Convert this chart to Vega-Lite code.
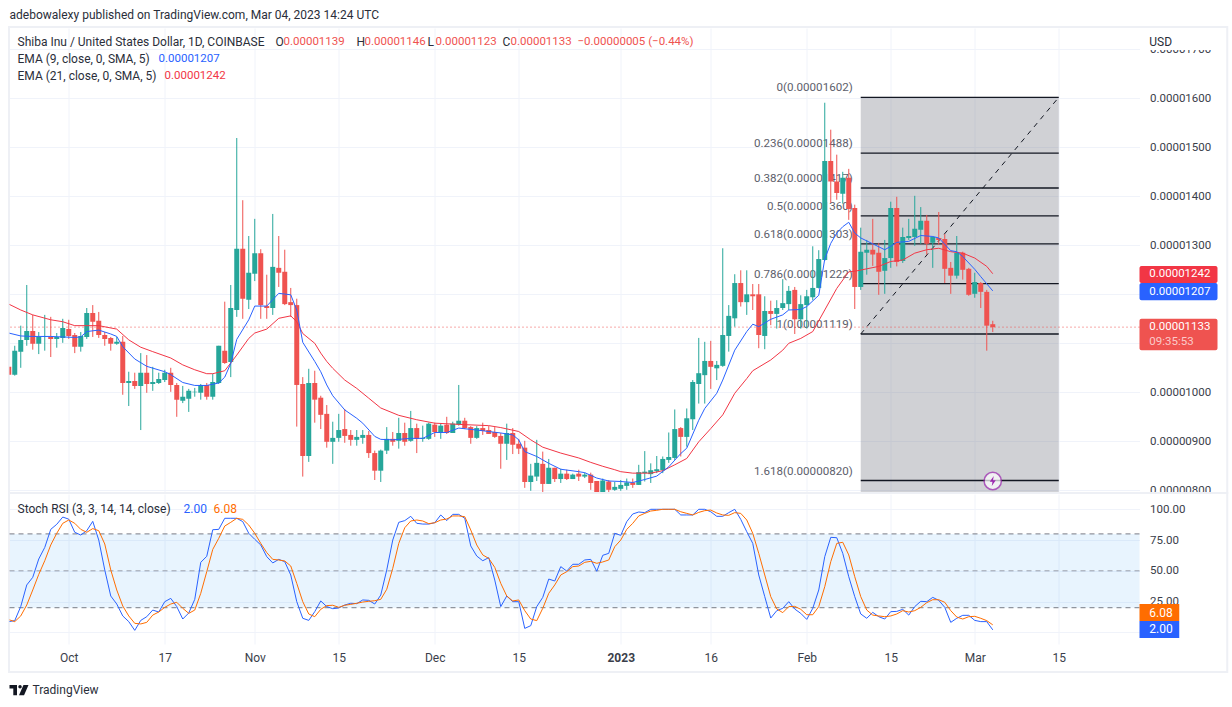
{
"$schema":"https://vega.github.io/schema/vega-lite/v6.json",
"background":"white",
"padding":{"left":7.5,"top":9,"right":0,"bottom":0},
"autosize":{"type":"pad"},
"bounds":"flush",
"spacing":1,
"config":{"view":{"stroke":null},"font":"Roboto","text":{"font":"Roboto"}},
"datasets":{
"daily":[
{"date":"2022-09-21","o":1052,"h":1052,"l":1036,"c":1036,"k":8.7,"d":10.3},
{"date":"2022-09-22","o":1036,"h":1095,"l":1034,"c":1085,"k":9.5,"d":8.7},
{"date":"2022-09-23","o":1083,"h":1136,"l":1050,"c":1107,"k":21,"d":13.3},
{"date":"2022-09-24","o":1107,"h":1219,"l":1095,"c":1125,"k":38.5,"d":22.2},
{"date":"2022-09-25","o":1125,"h":1158,"l":1087,"c":1099,"k":44.7,"d":34.4},
{"date":"2022-09-26","o":1099,"h":1123,"l":1078,"c":1113,"k":59.6,"d":47.1},
{"date":"2022-09-27","o":1113,"h":1158,"l":1085,"c":1114,"k":69,"d":58.2},
{"date":"2022-09-28","o":1113,"h":1154,"l":1072,"c":1109,"k":83.7,"d":71},
{"date":"2022-09-29","o":1109,"h":1121,"l":1091,"c":1113,"k":87.8,"d":80.5},
{"date":"2022-09-30","o":1111,"h":1150,"l":1101,"c":1131,"k":93.7,"d":88.6},
{"date":"2022-10-01","o":1129,"h":1148,"l":1109,"c":1115,"k":92,"d":91.3},
{"date":"2022-10-02","o":1117,"h":1121,"l":1080,"c":1093,"k":81.3,"d":88.6},
{"date":"2022-10-03","o":1093,"h":1123,"l":1083,"c":1115,"k":79.1,"d":83.7},
{"date":"2022-10-04","o":1113,"h":1172,"l":1109,"c":1162,"k":82.6,"d":81.3},
{"date":"2022-10-05","o":1162,"h":1178,"l":1113,"c":1144,"k":90.2,"d":84.3},
{"date":"2022-10-06","o":1146,"h":1164,"l":1111,"c":1117,"k":75,"d":82.6},
{"date":"2022-10-07","o":1117,"h":1123,"l":1095,"c":1109,"k":50.7,"d":71.8},
{"date":"2022-10-08","o":1111,"h":1113,"l":1085,"c":1099,"k":29.5,"d":50.7},
{"date":"2022-10-09","o":1099,"h":1113,"l":1097,"c":1103,"k":23,"d":34.4},
{"date":"2022-10-10","o":1103,"h":1115,"l":995,"c":1019,"k":13.3,"d":21.4},
{"date":"2022-10-11","o":1019,"h":1042,"l":972,"c":1023,"k":8.7,"d":13.3},
{"date":"2022-10-12","o":1023,"h":1040,"l":1007,"c":1013,"k":1.6,"d":7.3},
{"date":"2022-10-13","o":1013,"h":1080,"l":923,"c":1040,"k":9.7,"d":6.8},
{"date":"2022-10-14","o":1040,"h":1076,"l":999,"c":1017,"k":12.7,"d":8.1},
{"date":"2022-10-15","o":1017,"h":1052,"l":1003,"c":1021,"k":18.1,"d":14},
{"date":"2022-10-16","o":1019,"h":1040,"l":1017,"c":1027,"k":16.5,"d":16.5},
{"date":"2022-10-17","o":1025,"h":1046,"l":1021,"c":1040,"k":24.9,"d":20.3},
{"date":"2022-10-18","o":1040,"h":1050,"l":1001,"c":1015,"k":27.6,"d":23},
{"date":"2022-10-19","o":1015,"h":1019,"l":950,"c":985,"k":20.9,"d":24.4},
{"date":"2022-10-20","o":983,"h":1013,"l":978,"c":991,"k":10.8,"d":19.5},
{"date":"2022-10-21","o":987,"h":1007,"l":960,"c":1003,"k":15.7,"d":15.4},
{"date":"2022-10-22","o":1000,"h":1009,"l":991,"c":1001,"k":26.8,"d":18.1},
{"date":"2022-10-23","o":999,"h":1017,"l":985,"c":1015,"k":56.9,"d":31.7},
{"date":"2022-10-24","o":1015,"h":1019,"l":985,"c":991,"k":61.8,"d":49.3},
{"date":"2022-10-25","o":991,"h":1038,"l":985,"c":1021,"k":83.4,"d":67.4},
{"date":"2022-10-26","o":1019,"h":1095,"l":1017,"c":1095,"k":83.7,"d":76.4},
{"date":"2022-10-27","o":1085,"h":1185,"l":1058,"c":1060,"k":92.7,"d":86.4},
{"date":"2022-10-28","o":1062,"h":1219,"l":1031,"c":1172,"k":92.7,"d":89.4},
{"date":"2022-10-29","o":1168,"h":1519,"l":1154,"c":1293,"k":92.7,"d":92.7},
{"date":"2022-10-30","o":1293,"h":1392,"l":1150,"c":1191,"k":90,"d":91.8},
{"date":"2022-10-31","o":1189,"h":1319,"l":1170,"c":1244,"k":80.5,"d":87.2},
{"date":"2022-11-01","o":1242,"h":1354,"l":1227,"c":1284,"k":75.6,"d":80.5},
{"date":"2022-11-02","o":1284,"h":1292,"l":1150,"c":1178,"k":71,"d":72.3},
{"date":"2022-11-03","o":1176,"h":1240,"l":1150,"c":1172,"k":61.5,"d":64.8},
{"date":"2022-11-04","o":1172,"h":1364,"l":1158,"c":1256,"k":56.4,"d":59.3},
{"date":"2022-11-05","o":1254,"h":1319,"l":1215,"c":1244,"k":59.3,"d":58.8},
{"date":"2022-11-06","o":1246,"h":1291,"l":1178,"c":1180,"k":57.4,"d":58},
{"date":"2022-11-07","o":1184,"h":1213,"l":1154,"c":1178,"k":46.6,"d":53.9},
{"date":"2022-11-08","o":1178,"h":1191,"l":930,"c":1015,"k":24.9,"d":39.8},
{"date":"2022-11-09","o":1017,"h":1031,"l":828,"c":870,"k":11.4,"d":24.9},
{"date":"2022-11-10","o":870,"h":1048,"l":858,"c":1019,"k":9.7,"d":14.9},
{"date":"2022-11-11","o":1019,"h":1044,"l":938,"c":985,"k":16.8,"d":12.7},
{"date":"2022-11-12","o":989,"h":993,"l":925,"c":954,"k":25.5,"d":18.7},
{"date":"2022-11-13","o":956,"h":974,"l":887,"c":899,"k":20.9,"d":21.7},
{"date":"2022-11-14","o":899,"h":940,"l":854,"c":907,"k":19.2,"d":22},
{"date":"2022-11-15","o":907,"h":956,"l":899,"c":923,"k":19.8,"d":20.3},
{"date":"2022-11-16","o":925,"h":966,"l":897,"c":911,"k":22.2,"d":22},
{"date":"2022-11-17","o":913,"h":923,"l":891,"c":903,"k":23.6,"d":22.7},
{"date":"2022-11-18","o":903,"h":923,"l":891,"c":909,"k":23.3,"d":23.6},
{"date":"2022-11-19","o":907,"h":923,"l":895,"c":913,"k":26.3,"d":24.6},
{"date":"2022-11-20","o":913,"h":921,"l":866,"c":876,"k":26,"d":25.2},
{"date":"2022-11-21","o":876,"h":881,"l":821,"c":840,"k":23,"d":25.7},
{"date":"2022-11-22","o":840,"h":883,"l":817,"c":881,"k":30.3,"d":26.8},
{"date":"2022-11-23","o":881,"h":929,"l":874,"c":905,"k":50.7,"d":35},
{"date":"2022-11-24","o":905,"h":919,"l":891,"c":899,"k":75,"d":52},
{"date":"2022-11-25","o":901,"h":948,"l":885,"c":917,"k":89.4,"d":72.3},
{"date":"2022-11-26","o":917,"h":938,"l":891,"c":899,"k":90.8,"d":85},
{"date":"2022-11-27","o":901,"h":962,"l":899,"c":927,"k":94.3,"d":90.5},
{"date":"2022-11-28","o":927,"h":936,"l":876,"c":905,"k":88.6,"d":91.3},
{"date":"2022-11-29","o":905,"h":932,"l":899,"c":907,"k":88,"d":90.5},
{"date":"2022-11-30","o":905,"h":938,"l":903,"c":936,"k":88,"d":88.3},
{"date":"2022-12-01","o":934,"h":938,"l":909,"c":919,"k":89.1,"d":89.1},
{"date":"2022-12-02","o":917,"h":936,"l":905,"c":932,"k":95.4,"d":91.3},
{"date":"2022-12-03","o":934,"h":950,"l":915,"c":917,"k":90.8,"d":92.1},
{"date":"2022-12-04","o":917,"h":940,"l":917,"c":936,"k":95.9,"d":94.6},
{"date":"2022-12-05","o":934,"h":1015,"l":932,"c":942,"k":95.9,"d":94.6},
{"date":"2022-12-06","o":942,"h":948,"l":925,"c":927,"k":92.7,"d":94},
{"date":"2022-12-07","o":929,"h":931,"l":895,"c":907,"k":70.2,"d":83.2},
{"date":"2022-12-08","o":907,"h":931,"l":905,"c":927,"k":62,"d":71},
{"date":"2022-12-09","o":927,"h":938,"l":913,"c":921,"k":58.2,"d":62.9},
{"date":"2022-12-10","o":923,"h":931,"l":915,"c":915,"k":60.7,"d":60.1},
{"date":"2022-12-11","o":919,"h":929,"l":907,"c":909,"k":42.5,"d":52.8},
{"date":"2022-12-12","o":911,"h":917,"l":844,"c":895,"k":20.9,"d":39.8},
{"date":"2022-12-13","o":895,"h":936,"l":862,"c":917,"k":29.5,"d":29.5},
{"date":"2022-12-14","o":917,"h":927,"l":874,"c":893,"k":24.9,"d":25.5},
{"date":"2022-12-15","o":895,"h":905,"l":874,"c":885,"k":24.9,"d":26.3},
{"date":"2022-12-16","o":887,"h":901,"l":805,"c":817,"k":3.2,"d":17.6},
{"date":"2022-12-17","o":817,"h":854,"l":799,"c":830,"k":5.4,"d":10.8},
{"date":"2022-12-18","o":828,"h":903,"l":819,"c":856,"k":20.9,"d":9.5},
{"date":"2022-12-19","o":854,"h":879,"l":795,"c":813,"k":28.4,"d":19.5},
{"date":"2022-12-20","o":813,"h":864,"l":813,"c":846,"k":43.3,"d":31.7},
{"date":"2022-12-21","o":846,"h":846,"l":817,"c":823,"k":41.7,"d":38.5},
{"date":"2022-12-22","o":823,"h":844,"l":815,"c":834,"k":53.4,"d":46.6},
{"date":"2022-12-23","o":834,"h":842,"l":821,"c":823,"k":49.8,"d":49.3},
{"date":"2022-12-24","o":823,"h":834,"l":823,"c":832,"k":55.3,"d":53.4},
{"date":"2022-12-25","o":834,"h":842,"l":819,"c":828,"k":55.3,"d":53.9},
{"date":"2022-12-26","o":828,"h":836,"l":825,"c":832,"k":58.8,"d":56.9},
{"date":"2022-12-27","o":832,"h":836,"l":801,"c":815,"k":59.3,"d":57.7},
{"date":"2022-12-28","o":819,"h":819,"l":790,"c":794,"k":49.6,"d":56.1},
{"date":"2022-12-29","o":796,"h":824,"l":794,"c":820,"k":62.6,"d":57.2},
{"date":"2022-12-30","o":818,"h":821,"l":795,"c":801,"k":64.2,"d":58.8},
{"date":"2022-12-31","o":801,"h":817,"l":799,"c":807,"k":80.5,"d":69.6},
{"date":"2023-01-01","o":803,"h":821,"l":799,"c":811,"k":78.8,"d":75},
{"date":"2023-01-02","o":809,"h":824,"l":801,"c":816,"k":90,"d":83.7},
{"date":"2023-01-03","o":816,"h":824,"l":805,"c":811,"k":96.2,"d":88.6},
{"date":"2023-01-04","o":811,"h":852,"l":811,"c":837,"k":97.8,"d":94.6},
{"date":"2023-01-05","o":835,"h":880,"l":818,"c":838,"k":97.3,"d":96.7},
{"date":"2023-01-06","o":833,"h":855,"l":815,"c":841,"k":100,"d":98.6},
{"date":"2023-01-07","o":839,"h":870,"l":835,"c":843,"k":100,"d":99.2},
{"date":"2023-01-08","o":841,"h":869,"l":835,"c":864,"k":100,"d":100},
{"date":"2023-01-09","o":862,"h":918,"l":856,"c":868,"k":100,"d":100},
{"date":"2023-01-10","o":866,"h":965,"l":862,"c":925,"k":100,"d":100},
{"date":"2023-01-11","o":927,"h":929,"l":869,"c":909,"k":95.4,"d":98},
{"date":"2023-01-12","o":909,"h":967,"l":889,"c":947,"k":95.4,"d":96.7},
{"date":"2023-01-13","o":945,"h":1025,"l":923,"c":1021,"k":95.4,"d":95.4},
{"date":"2023-01-14","o":1017,"h":1111,"l":977,"c":1039,"k":100,"d":97.5},
{"date":"2023-01-15","o":1035,"h":1103,"l":977,"c":1064,"k":100,"d":98.9},
{"date":"2023-01-16","o":1064,"h":1105,"l":1007,"c":1052,"k":98,"d":99.4},
{"date":"2023-01-17","o":1049,"h":1064,"l":1025,"c":1056,"k":94.3,"d":97},
{"date":"2023-01-18","o":1054,"h":1294,"l":1052,"c":1117,"k":94.3,"d":95.4},
{"date":"2023-01-19","o":1115,"h":1178,"l":1083,"c":1156,"k":97.3,"d":95.1},
{"date":"2023-01-20","o":1151,"h":1241,"l":1134,"c":1223,"k":100,"d":97.3},
{"date":"2023-01-21","o":1223,"h":1249,"l":1175,"c":1184,"k":91.8,"d":96.7},
{"date":"2023-01-22","o":1184,"h":1249,"l":1158,"c":1200,"k":81.8,"d":91.3},
{"date":"2023-01-23","o":1200,"h":1221,"l":1168,"c":1196,"k":72.3,"d":80.5},
{"date":"2023-01-24","o":1200,"h":1221,"l":1090,"c":1117,"k":46.6,"d":64.2},
{"date":"2023-01-25","o":1115,"h":1196,"l":1088,"c":1166,"k":29,"d":46.6},
{"date":"2023-01-26","o":1166,"h":1187,"l":1137,"c":1160,"k":11.6,"d":29},
{"date":"2023-01-27","o":1160,"h":1188,"l":1130,"c":1172,"k":17.6,"d":19},
{"date":"2023-01-28","o":1172,"h":1231,"l":1168,"c":1182,"k":19.5,"d":16},
{"date":"2023-01-29","o":1180,"h":1217,"l":1168,"c":1207,"k":24.9,"d":20.9},
{"date":"2023-01-30","o":1209,"h":1215,"l":1119,"c":1149,"k":18.9,"d":21.1},
{"date":"2023-01-31","o":1149,"h":1198,"l":1130,"c":1180,"k":15.4,"d":18.7},
{"date":"2023-02-01","o":1178,"h":1209,"l":1130,"c":1196,"k":10.5,"d":14.3},
{"date":"2023-02-02","o":1194,"h":1298,"l":1188,"c":1213,"k":19.5,"d":14.3},
{"date":"2023-02-03","o":1213,"h":1290,"l":1212,"c":1272,"k":34.4,"d":20.9},
{"date":"2023-02-04","o":1270,"h":1591,"l":1268,"c":1472,"k":61.5,"d":37.1},
{"date":"2023-02-05","o":1472,"h":1536,"l":1387,"c":1430,"k":77.2,"d":57.4},
{"date":"2023-02-06","o":1430,"h":1485,"l":1393,"c":1407,"k":76.9,"d":72.3},
{"date":"2023-02-07","o":1405,"h":1450,"l":1385,"c":1438,"k":64.2,"d":73.2},
{"date":"2023-02-08","o":1438,"h":1456,"l":1352,"c":1374,"k":45.2,"d":62.9},
{"date":"2023-02-09","o":1376,"h":1383,"l":1170,"c":1215,"k":29,"d":45.2},
{"date":"2023-02-10","o":1215,"h":1336,"l":1209,"c":1287,"k":14.9,"d":29},
{"date":"2023-02-11","o":1285,"h":1311,"l":1240,"c":1291,"k":11.4,"d":18.1},
{"date":"2023-02-12","o":1291,"h":1354,"l":1258,"c":1281,"k":16.2,"d":14},
{"date":"2023-02-13","o":1285,"h":1305,"l":1199,"c":1246,"k":12.7,"d":13.3},
{"date":"2023-02-14","o":1248,"h":1311,"l":1201,"c":1274,"k":10.8,"d":12.7},
{"date":"2023-02-15","o":1274,"h":1389,"l":1254,"c":1376,"k":16.8,"d":13.3},
{"date":"2023-02-16","o":1376,"h":1399,"l":1257,"c":1266,"k":17,"d":14.9},
{"date":"2023-02-17","o":1268,"h":1336,"l":1264,"c":1317,"k":18.7,"d":17.6},
{"date":"2023-02-18","o":1315,"h":1354,"l":1311,"c":1319,"k":14,"d":16.5},
{"date":"2023-02-19","o":1317,"h":1401,"l":1299,"c":1334,"k":20.9,"d":17.6},
{"date":"2023-02-20","o":1332,"h":1378,"l":1303,"c":1350,"k":25.2,"d":20.3},
{"date":"2023-02-21","o":1350,"h":1362,"l":1281,"c":1303,"k":24.9,"d":24.1},
{"date":"2023-02-22","o":1305,"h":1318,"l":1254,"c":1317,"k":28.4,"d":26.5},
{"date":"2023-02-23","o":1315,"h":1368,"l":1301,"c":1311,"k":26,"d":26.5},
{"date":"2023-02-24","o":1313,"h":1323,"l":1223,"c":1252,"k":20.3,"d":24.4},
{"date":"2023-02-25","o":1254,"h":1266,"l":1201,"c":1238,"k":8.1,"d":17.6},
{"date":"2023-02-26","o":1238,"h":1319,"l":1232,"c":1285,"k":11.4,"d":12.4},
{"date":"2023-02-27","o":1285,"h":1287,"l":1230,"c":1250,"k":13.8,"d":10.8},
{"date":"2023-02-28","o":1252,"h":1254,"l":1197,"c":1199,"k":13.8,"d":12.7},
{"date":"2023-03-01","o":1201,"h":1244,"l":1193,"c":1225,"k":9.7,"d":13},
{"date":"2023-03-02","o":1223,"h":1225,"l":1172,"c":1205,"k":8.7,"d":11.4},
{"date":"2023-03-03","o":1205,"h":1209,"l":1085,"c":1136,"k":8.7,"d":9.5},
{"date":"2023-03-04","o":1139,"h":1146,"l":1123,"c":1133,"k":2,"d":6.08}
],
"ema":[
{"s":"21","date":"2022-09-21","v":1180},{"s":"21","date":"2022-09-23","v":1168},{"s":"21","date":"2022-09-25","v":1158},{"s":"21","date":"2022-09-28","v":1148},{"s":"21","date":"2022-09-30","v":1144},{"s":"21","date":"2022-10-02","v":1136},{"s":"21","date":"2022-10-04","v":1136},{"s":"21","date":"2022-10-06","v":1136},{"s":"21","date":"2022-10-09","v":1129},{"s":"21","date":"2022-10-11","v":1107},{"s":"21","date":"2022-10-13","v":1092},{"s":"21","date":"2022-10-15","v":1083},{"s":"21","date":"2022-10-18","v":1070},{"s":"21","date":"2022-10-20","v":1056},{"s":"21","date":"2022-10-22","v":1046},{"s":"21","date":"2022-10-24","v":1038},{"s":"21","date":"2022-10-25","v":1038},{"s":"21","date":"2022-10-27","v":1044},{"s":"21","date":"2022-10-29","v":1076},{"s":"21","date":"2022-10-31","v":1110},{"s":"21","date":"2022-11-01","v":1121},{"s":"21","date":"2022-11-03","v":1129},{"s":"21","date":"2022-11-05","v":1151},{"s":"21","date":"2022-11-07","v":1156},{"s":"21","date":"2022-11-08","v":1144},{"s":"21","date":"2022-11-09","v":1120},{"s":"21","date":"2022-11-11","v":1100},{"s":"21","date":"2022-11-12","v":1080},{"s":"21","date":"2022-11-13","v":1063},{"s":"21","date":"2022-11-14","v":1049},{"s":"21","date":"2022-11-16","v":1025},{"s":"21","date":"2022-11-18","v":1008},{"s":"21","date":"2022-11-20","v":988},{"s":"21","date":"2022-11-22","v":968},{"s":"21","date":"2022-11-25","v":953},{"s":"21","date":"2022-11-28","v":944},{"s":"21","date":"2022-12-01","v":937},{"s":"21","date":"2022-12-06","v":934},{"s":"21","date":"2022-12-10","v":932},{"s":"21","date":"2022-12-12","v":928},{"s":"21","date":"2022-12-15","v":920},{"s":"21","date":"2022-12-17","v":903},{"s":"21","date":"2022-12-19","v":888},{"s":"21","date":"2022-12-22","v":876},{"s":"21","date":"2022-12-25","v":866},{"s":"21","date":"2022-12-27","v":857},{"s":"21","date":"2022-12-29","v":849},{"s":"21","date":"2022-12-31","v":842},{"s":"21","date":"2023-01-01","v":838},{"s":"21","date":"2023-01-03","v":835},{"s":"21","date":"2023-01-06","v":835},{"s":"21","date":"2023-01-08","v":840},{"s":"21","date":"2023-01-10","v":852},{"s":"21","date":"2023-01-12","v":865},{"s":"21","date":"2023-01-14","v":899},{"s":"21","date":"2023-01-16","v":926},{"s":"21","date":"2023-01-18","v":954},{"s":"21","date":"2023-01-20","v":998},{"s":"21","date":"2023-01-22","v":1028},{"s":"21","date":"2023-01-23","v":1044},{"s":"21","date":"2023-01-26","v":1066},{"s":"21","date":"2023-01-28","v":1086},{"s":"21","date":"2023-01-29","v":1100},{"s":"21","date":"2023-01-31","v":1110},{"s":"21","date":"2023-02-02","v":1124},{"s":"21","date":"2023-02-04","v":1168},{"s":"21","date":"2023-02-06","v":1212},{"s":"21","date":"2023-02-08","v":1246},{"s":"21","date":"2023-02-09","v":1247},{"s":"21","date":"2023-02-11","v":1252},{"s":"21","date":"2023-02-13","v":1257},{"s":"21","date":"2023-02-15","v":1267},{"s":"21","date":"2023-02-17","v":1270},{"s":"21","date":"2023-02-19","v":1284},{"s":"21","date":"2023-02-21","v":1291},{"s":"21","date":"2023-02-23","v":1294},{"s":"21","date":"2023-02-25","v":1287},{"s":"21","date":"2023-02-27","v":1284},{"s":"21","date":"2023-03-01","v":1274},{"s":"21","date":"2023-03-03","v":1257},{"s":"21","date":"2023-03-04","v":1242},
{"s":"9","date":"2022-09-21","v":1121},{"s":"9","date":"2022-09-23","v":1115},{"s":"9","date":"2022-09-25","v":1114},{"s":"9","date":"2022-09-28","v":1114},{"s":"9","date":"2022-09-30","v":1113},{"s":"9","date":"2022-10-02","v":1112},{"s":"9","date":"2022-10-03","v":1113},{"s":"9","date":"2022-10-04","v":1124},{"s":"9","date":"2022-10-06","v":1127},{"s":"9","date":"2022-10-08","v":1119},{"s":"9","date":"2022-10-09","v":1114},{"s":"9","date":"2022-10-10","v":1093},{"s":"9","date":"2022-10-12","v":1068},{"s":"9","date":"2022-10-14","v":1053},{"s":"9","date":"2022-10-17","v":1042},{"s":"9","date":"2022-10-18","v":1036},{"s":"9","date":"2022-10-20","v":1020},{"s":"9","date":"2022-10-22","v":1014},{"s":"9","date":"2022-10-24","v":1014},{"s":"9","date":"2022-10-26","v":1019},{"s":"9","date":"2022-10-27","v":1031},{"s":"9","date":"2022-10-28","v":1059},{"s":"9","date":"2022-10-29","v":1108},{"s":"9","date":"2022-10-31","v":1148},{"s":"9","date":"2022-11-01","v":1176},{"s":"9","date":"2022-11-03","v":1176},{"s":"9","date":"2022-11-04","v":1189},{"s":"9","date":"2022-11-05","v":1202},{"s":"9","date":"2022-11-07","v":1199},{"s":"9","date":"2022-11-08","v":1168},{"s":"9","date":"2022-11-09","v":1102},{"s":"9","date":"2022-11-11","v":1063},{"s":"9","date":"2022-11-12","v":1042},{"s":"9","date":"2022-11-13","v":1015},{"s":"9","date":"2022-11-14","v":993},{"s":"9","date":"2022-11-16","v":964},{"s":"9","date":"2022-11-18","v":947},{"s":"9","date":"2022-11-19","v":937},{"s":"9","date":"2022-11-21","v":910},{"s":"9","date":"2022-11-22","v":904},{"s":"9","date":"2022-11-24","v":903},{"s":"9","date":"2022-11-27","v":906},{"s":"9","date":"2022-11-29","v":906},{"s":"9","date":"2022-12-01","v":918},{"s":"9","date":"2022-12-03","v":918},{"s":"9","date":"2022-12-05","v":927},{"s":"9","date":"2022-12-08","v":923},{"s":"9","date":"2022-12-10","v":920},{"s":"9","date":"2022-12-12","v":917},{"s":"9","date":"2022-12-14","v":913},{"s":"9","date":"2022-12-15","v":903},{"s":"9","date":"2022-12-16","v":879},{"s":"9","date":"2022-12-18","v":869},{"s":"9","date":"2022-12-20","v":855},{"s":"9","date":"2022-12-22","v":843},{"s":"9","date":"2022-12-25","v":838},{"s":"9","date":"2022-12-26","v":836},{"s":"9","date":"2022-12-28","v":825},{"s":"9","date":"2022-12-30","v":819},{"s":"9","date":"2023-01-01","v":818},{"s":"9","date":"2023-01-03","v":816},{"s":"9","date":"2023-01-05","v":822},{"s":"9","date":"2023-01-07","v":829},{"s":"9","date":"2023-01-09","v":848},{"s":"9","date":"2023-01-11","v":875},{"s":"9","date":"2023-01-12","v":886},{"s":"9","date":"2023-01-14","v":943},{"s":"9","date":"2023-01-15","v":967},{"s":"9","date":"2023-01-17","v":998},{"s":"9","date":"2023-01-18","v":1025},{"s":"9","date":"2023-01-20","v":1086},{"s":"9","date":"2023-01-22","v":1124},{"s":"9","date":"2023-01-23","v":1139},{"s":"9","date":"2023-01-24","v":1134},{"s":"9","date":"2023-01-26","v":1149},{"s":"9","date":"2023-01-28","v":1158},{"s":"9","date":"2023-01-29","v":1168},{"s":"9","date":"2023-01-31","v":1169},{"s":"9","date":"2023-02-01","v":1175},{"s":"9","date":"2023-02-03","v":1198},{"s":"9","date":"2023-02-04","v":1272},{"s":"9","date":"2023-02-05","v":1304},{"s":"9","date":"2023-02-06","v":1325},{"s":"9","date":"2023-02-07","v":1338},{"s":"9","date":"2023-02-08","v":1347},{"s":"9","date":"2023-02-09","v":1325},{"s":"9","date":"2023-02-10","v":1315},{"s":"9","date":"2023-02-12","v":1303},{"s":"9","date":"2023-02-14","v":1291},{"s":"9","date":"2023-02-15","v":1298},{"s":"9","date":"2023-02-16","v":1306},{"s":"9","date":"2023-02-18","v":1308},{"s":"9","date":"2023-02-20","v":1320},{"s":"9","date":"2023-02-22","v":1318},{"s":"9","date":"2023-02-23","v":1315},{"s":"9","date":"2023-02-25","v":1289},{"s":"9","date":"2023-02-26","v":1287},{"s":"9","date":"2023-02-27","v":1277},{"s":"9","date":"2023-03-01","v":1251},{"s":"9","date":"2023-03-02","v":1236},{"s":"9","date":"2023-03-04","v":1207}
],
"fib":[
{"date":"2023-02-10","price":1602,"label":"0(0.00001602)"},
{"date":"2023-02-10","price":1488,"label":"0.236(0.00001488)"},
{"date":"2023-02-10","price":1417,"label":"0.382(0.00001417)"},
{"date":"2023-02-10","price":1360,"label":"0.5(0.00001360)"},
{"date":"2023-02-10","price":1303,"label":"0.618(0.00001303)"},
{"date":"2023-02-10","price":1222,"label":"0.786(0.00001222)"},
{"date":"2023-02-10","price":1119,"label":"1(0.00001119)"},
{"date":"2023-02-10","price":820,"label":"1.618(0.00000820)"}
],
"notes":[
{"date":"2022-09-21T03:00:00Z","price":1770,"label":"adebowalexy published on TradingView.com, Mar 04, 2023 14:24 UTC","tone":"ink"},
{"date":"2022-09-22T11:00:00Z","price":1715,"label":"Shiba Inu / United States Dollar, 1D, COINBASE","tone":"ink"},
{"date":"2022-11-04T11:00:00Z","price":1715,"label":"O","tone":"ink"},
{"date":"2022-11-05T19:00:00Z","price":1715,"label":"0.00001139","tone":"red"},
{"date":"2022-11-17T23:00:00Z","price":1715,"label":"H","tone":"ink"},
{"date":"2022-11-19T07:00:00Z","price":1715,"label":"0.00001146","tone":"red"},
{"date":"2022-11-29T19:00:00Z","price":1715,"label":"L","tone":"ink"},
{"date":"2022-12-01T03:00:00Z","price":1715,"label":"0.00001123","tone":"red"},
{"date":"2022-12-12T07:00:00Z","price":1715,"label":"C","tone":"ink"},
{"date":"2022-12-13T15:00:00Z","price":1715,"label":"0.00001133","tone":"red"},
{"date":"2022-12-24T19:00:00Z","price":1715,"label":"−0.00000005 (−0.44%)","tone":"red"},
{"date":"2022-09-22T11:00:00Z","price":1680,"label":"EMA (9, close, 0, SMA, 5)","tone":"ink"},
{"date":"2022-10-15T23:00:00Z","price":1680,"label":"0.00001207","tone":"blue"},
{"date":"2022-09-22T11:00:00Z","price":1645.5,"label":"EMA (21, close, 0, SMA, 5)","tone":"ink"},
{"date":"2022-10-16T23:00:00Z","price":1645.5,"label":"0.00001242","tone":"coral"},
{"date":"2023-03-30T02:00:00Z","price":1715,"label":"USD","tone":"ink"},
{"date":"2023-03-30T02:00:00Z","price":1240.5,"label":"0.00001242","tone":"white"},
{"date":"2023-03-30T02:00:00Z","price":1205.5,"label":"0.00001207","tone":"white"},
{"date":"2023-03-30T02:00:00Z","price":1133,"label":"0.00001133","tone":"white"},
{"date":"2023-03-30T02:00:00Z","price":1103,"label":"09:35:53","tone":"blush"}
],
"tags":[
{"top":1743,"bottom":1698.6,"tone":"white"},
{"top":1258,"bottom":1223,"tone":"coral"},
{"top":1223,"bottom":1188,"tone":"blue"},
{"top":1150,"bottom":1086,"tone":"red"}
],
"stochNotes":[
{"date":"2022-09-22T11:00:00Z","v":100,"label":"Stoch RSI (3, 3, 14, 14, close)","tone":"ink"},
{"date":"2022-10-20T03:00:00Z","v":100,"label":"2.00","tone":"blue"},
{"date":"2022-10-25T03:00:00Z","v":100,"label":"6.08","tone":"orange"},
{"date":"2022-09-24T23:00:00Z","v":-47,"label":"TradingView","tone":"ink"},
{"date":"2023-03-30T02:00:00Z","v":16.1,"label":"6.08","tone":"white"},
{"date":"2023-03-30T02:00:00Z","v":2.3,"label":"2.00","tone":"white"}
],
"stochTags":[
{"top":23,"bottom":9.2,"tone":"orange"},
{"top":9.2,"bottom":-4.6,"tone":"blue"}
]
},
"vconcat":[
{"width":1130,"height":465,"layer":[
{"data":{"name":"tags"},"transform":[{"filter":"datum.tone=='white'"}],"mark":{"type":"rect"},
 "encoding":{
  "x":{"datum":{"year":2023,"month":3,"date":28,"hours":14,"utc":true},"type":"temporal",
   "scale":{"type":"utc","padding":0,"domain":[{"year":2022,"month":9,"date":21,"hours":3,"utc":true},{"year":2023,"month":3,"date":28,"hours":11,"utc":true}]},
   "axis":{"title":null,"labels":false,"domain":false,"ticks":false,"grid":true,"gridColor":"#f0f3fa","gridWidth":1,
    "values":[{"year":2022,"month":10,"date":1,"utc":true},{"year":2022,"month":10,"date":17,"utc":true},{"year":2022,"month":11,"date":1,"utc":true},{"year":2022,"month":11,"date":15,"utc":true},{"year":2022,"month":12,"date":1,"utc":true},{"year":2022,"month":12,"date":15,"utc":true},{"year":2023,"month":1,"date":1,"utc":true},{"year":2023,"month":1,"date":16,"utc":true},{"year":2023,"month":2,"date":1,"utc":true},{"year":2023,"month":2,"date":15,"utc":true},{"year":2023,"month":3,"date":1,"utc":true},{"year":2023,"month":3,"date":15,"utc":true}]}},
  "x2":{"datum":{"year":2023,"month":4,"date":11,"utc":true}},
  "y":{"field":"top","type":"quantitative","scale":{"domain":[794.5,1743.5],"nice":false,"zero":false},
   "axis":{"title":null,"orient":"right","domain":false,"ticks":false,"grid":true,"gridColor":"#f0f3fa","gridWidth":1,"values":[800,900,1000,1100,1200,1300,1400,1500,1600,1700],"labelExpr":"datum.value==1100||datum.value==1200?'':format(datum.value/100000000,'.8f')","labelFont":"Roboto","labelFontSize":11.5,"labelColor":"#3a3e4a","labelPadding":10,"labelOverlap":false,"labelBound":false,"labelFlush":false}},
  "y2":{"field":"bottom"},
  "color":{"value":"#ffffff"}}},
{"mark":{"type":"rect","fill":null,"stroke":"#eef0f5","strokeWidth":2,"filled":false},"data":{"values":[{"a":1}]},
 "encoding":{
  "x":{"datum":{"year":2022,"month":9,"date":21,"hours":1,"utc":true},"type":"temporal","axis":null},
  "x2":{"datum":{"year":2023,"month":4,"date":12,"hours":2,"utc":true}},
  "y":{"datum":1745.5,"axis":null},"y2":{"datum":794.5}}},
{"data":{"values":[{"date":"2023-02-10","end":"2023-03-15","top":1602,"bottom":790}],"format":{"parse":{"date":"date","end":"date"}}},
 "mark":{"type":"rect","clip":true,"color":"#787b86","opacity":0.35},
 "encoding":{"x":{"field":"date","type":"temporal","axis":null},"x2":{"field":"end"},"y":{"field":"top","type":"quantitative","axis":null},"y2":{"field":"bottom"}}},
{"data":{"name":"fib"},"mark":{"type":"text","align":"right","baseline":"middle","dx":-8,"dy":-9,"font":"Roboto","fontSize":11.6,"color":"#5d606b"},
 "encoding":{"x":{"field":"date","type":"temporal","axis":null},"y":{"field":"price","type":"quantitative","axis":null},"text":{"field":"label"}}},
{"data":{"name":"fib"},"mark":{"type":"rule","color":"#131722","strokeWidth":1.3,"clip":true},
 "encoding":{"x":{"field":"date","type":"temporal","axis":null},"x2":{"datum":{"year":2023,"month":3,"date":15,"utc":true}},"y":{"field":"price","type":"quantitative","axis":null}}},
{"data":{"values":[{"date":"2023-02-10","price":1119},{"date":"2023-03-15","price":1602}]},
 "mark":{"type":"line","color":"#131722","strokeWidth":1,"strokeDash":[5,5]},
 "encoding":{"x":{"field":"date","type":"temporal","axis":null},"y":{"field":"price","type":"quantitative","axis":null}}},
{"data":{"values":[{"price":1133}]},"mark":{"type":"rule","color":"#ef5350","strokeWidth":1,"strokeDash":[1,3]},
 "encoding":{"y":{"field":"price","type":"quantitative","axis":null}}},
{"data":{"name":"daily"},"mark":{"type":"rule","strokeWidth":1,"clip":true},
 "encoding":{"x":{"field":"date","type":"temporal","axis":null},"y":{"field":"l","type":"quantitative","axis":null},"y2":{"field":"h"},
  "color":{"condition":{"test":"datum.c>=datum.o","value":"#26a69a"},"value":"#ef5350"}}},
{"data":{"name":"daily"},"mark":{"type":"bar","size":5,"clip":true},
 "encoding":{"x":{"field":"date","type":"temporal","axis":null},"y":{"field":"o","type":"quantitative","axis":null},"y2":{"field":"c"},
  "color":{"condition":{"test":"datum.c>=datum.o","value":"#26a69a"},"value":"#ef5350"}}},
{"data":{"name":"ema"},"mark":{"type":"line","strokeWidth":1,"clip":true},
 "encoding":{"x":{"field":"date","type":"temporal","axis":null},"y":{"field":"v","type":"quantitative","axis":null},
  "color":{"field":"s","type":"nominal","scale":{"domain":["9","21"],"range":["#2962ff","#f23645"]},"legend":null}}},
{"data":{"values":[{"date":"2023-03-04","price":819}]},"mark":{"type":"point","shape":"circle","size":300,"filled":true,"fill":"#ffffff","stroke":"#9c27b0","strokeWidth":1.5},
 "encoding":{"x":{"field":"date","type":"temporal","axis":null},"y":{"field":"price","type":"quantitative","axis":null}}},
{"data":{"values":[{"date":"2023-03-04","price":819}]},"mark":{"type":"point","shape":"M0.2,-1 L-0.6,0.15 L-0.05,0.15 L-0.2,1 L0.6,-0.15 L0.05,-0.15 Z","size":100,"filled":true,"fill":"#9c27b0","stroke":null,"opacity":1},
 "encoding":{"x":{"field":"date","type":"temporal","axis":null},"y":{"field":"price","type":"quantitative","axis":null}}},
{"data":{"name":"tags"},"transform":[{"filter":"datum.tone!='white'"}],"mark":{"type":"rect","cornerRadius":2},
 "encoding":{
  "x":{"datum":{"year":2023,"month":3,"date":28,"hours":11,"utc":true},"type":"temporal","axis":null},
  "x2":{"datum":{"year":2023,"month":4,"date":10,"hours":11,"utc":true}},
  "y":{"field":"top","type":"quantitative","axis":null},"y2":{"field":"bottom"},
  "color":{"field":"tone","type":"nominal","scale":{"domain":["coral","blue","red"],"range":["#f23645","#2962ff","#ef5350"]},"legend":null}}},
{"data":{"name":"notes"},"mark":{"type":"text","align":"left","baseline":"middle","font":"Roboto","fontSize":12},
 "encoding":{"x":{"field":"date","type":"temporal","axis":null},"y":{"field":"price","type":"quantitative","axis":null},"text":{"field":"label"},
  "size":{"condition":{"test":"test(/^[−0-9]/,datum.label)","value":11.5},"value":12},
  "color":{"field":"tone","type":"nominal","scale":{"name":"tone","domain":["ink","red","blue","coral","white","blush"],"range":["#2a2e39","#ef5350","#2962ff","#f23645","#ffffff","#fbcaca"]},"legend":null}}}
],"resolve":{"scale":{"color":"independent"},"axis":{"x":"independent","y":"independent"}}},
{"width":1130,"height":150,"layer":[
{"data":{"values":[{"top":80,"bottom":20}]},"mark":{"type":"rect","color":"#2196f3","opacity":0.1},
 "encoding":{
  "x":{"datum":{"year":2022,"month":9,"date":21,"hours":3,"utc":true},"type":"temporal",
   "scale":{"type":"utc","padding":0,"domain":[{"year":2022,"month":9,"date":21,"hours":3,"utc":true},{"year":2023,"month":3,"date":28,"hours":11,"utc":true}]},
   "axis":{"title":null,"domain":false,"ticks":false,"grid":true,"gridColor":"#f0f3fa","gridWidth":1,"labelPadding":8,"labelFont":"Roboto","labelFontSize":12,"labelColor":"#3a3e4a","labelOverlap":false,"labelFlush":false,"labelBound":false,
    "labelExpr":"utcdate(datum.value)==1 ? (utcmonth(datum.value)==0 ? utcFormat(datum.value,'%Y') : utcFormat(datum.value,'%b')) : utcFormat(datum.value,'%-d')",
    "labelFontWeight":{"condition":{"test":"utcmonth(datum.value)==0 && utcdate(datum.value)==1","value":"bold"},"value":"normal"},
    "values":[{"year":2022,"month":10,"date":1,"utc":true},{"year":2022,"month":10,"date":17,"utc":true},{"year":2022,"month":11,"date":1,"utc":true},{"year":2022,"month":11,"date":15,"utc":true},{"year":2022,"month":12,"date":1,"utc":true},{"year":2022,"month":12,"date":15,"utc":true},{"year":2023,"month":1,"date":1,"utc":true},{"year":2023,"month":1,"date":16,"utc":true},{"year":2023,"month":2,"date":1,"utc":true},{"year":2023,"month":2,"date":15,"utc":true},{"year":2023,"month":3,"date":1,"utc":true},{"year":2023,"month":3,"date":15,"utc":true}]}},
  "x2":{"datum":{"year":2023,"month":3,"date":28,"hours":11,"utc":true}},
  "y":{"field":"top","type":"quantitative","scale":{"domain":[-9.5,112.44],"nice":false,"zero":false},
   "axis":{"title":null,"orient":"right","domain":false,"ticks":false,"grid":true,"gridColor":"#f0f3fa","gridWidth":1,"values":[0,25,50,75,100],"labelExpr":"datum.value==0?'':format(datum.value,'.2f')","labelFont":"Roboto","labelFontSize":11.5,"labelColor":"#3a3e4a","labelPadding":10,"labelOverlap":false,"labelBound":false,"labelFlush":false}},
  "y2":{"field":"bottom"}}},
{"mark":{"type":"rect","fill":null,"stroke":"#eef0f5","strokeWidth":2,"filled":false},"data":{"values":[{"a":1}]},
 "encoding":{
  "x":{"datum":{"year":2022,"month":9,"date":21,"hours":1,"utc":true},"type":"temporal","axis":null},
  "x2":{"datum":{"year":2023,"month":4,"date":12,"hours":2,"utc":true}},
  "y":{"datum":113.2,"axis":null},"y2":{"datum":-32.3}}},
{"data":{"values":[{"v":80,"t":"hi"},{"v":20,"t":"lo"}]},"mark":{"type":"rule","color":"#787b86","strokeWidth":1,"strokeDash":[5,4]},
 "encoding":{"y":{"field":"v","type":"quantitative","axis":null}}},
{"data":{"values":[{"v":50}]},"mark":{"type":"rule","color":"#787b86","opacity":0.7,"strokeWidth":1,"strokeDash":[5,4]},
 "encoding":{"y":{"field":"v","type":"quantitative","axis":null}}},
{"data":{"name":"daily"},"mark":{"type":"line","color":"#2962ff","strokeWidth":1,"clip":true},
 "encoding":{"x":{"field":"date","type":"temporal","axis":null},"y":{"field":"k","type":"quantitative","axis":null}}},
{"data":{"name":"daily"},"mark":{"type":"line","color":"#ff6d00","strokeWidth":1,"clip":true},
 "encoding":{"x":{"field":"date","type":"temporal","axis":null},"y":{"field":"d","type":"quantitative","axis":null}}},
{"data":{"name":"stochTags"},"mark":{"type":"rect"},
 "encoding":{
  "x":{"datum":{"year":2023,"month":3,"date":28,"hours":11,"utc":true},"type":"temporal","axis":null},
  "x2":{"datum":{"year":2023,"month":4,"date":4,"hours":2,"utc":true}},
  "y":{"field":"top","type":"quantitative","axis":null},"y2":{"field":"bottom"},
  "color":{"field":"tone","type":"nominal","scale":{"domain":["orange","blue"],"range":["#ff6d00","#2962ff"]},"legend":null}}},
{"data":{"name":"stochNotes"},"mark":{"type":"text","align":"left","baseline":"middle","font":"Roboto","fontSize":12},
 "encoding":{"x":{"field":"date","type":"temporal","axis":null},"y":{"field":"v","type":"quantitative","axis":null},"text":{"field":"label"},
  "color":{"field":"tone","type":"nominal","scale":{"domain":["ink","blue","orange","white"],"range":["#2a2e39","#2962ff","#ff6d00","#ffffff"]},"legend":null}}},
{"data":{"values":[{"date":"2022-09-22T17:00:00Z","v":-47}]},"mark":{"type":"point","shape":"M-1,-0.53 L-0.21,-0.53 L-0.21,0.53 L-0.6,0.53 L-0.6,-0.18 L-1,-0.18 Z M-0.07,-0.35 a0.18,0.18 0 1,0 0.36,0 a0.18,0.18 0 1,0 -0.36,0 Z M0.47,-0.53 L1,-0.53 L0.53,0.53 L0,0.53 Z","size":361,"filled":true,"fill":"#131722","stroke":null,"opacity":1},
 "encoding":{"x":{"field":"date","type":"temporal","axis":null},"y":{"field":"v","type":"quantitative","axis":null}}}
],"resolve":{"scale":{"color":"independent"},"axis":{"x":"independent","y":"independent"}}}
]
}
